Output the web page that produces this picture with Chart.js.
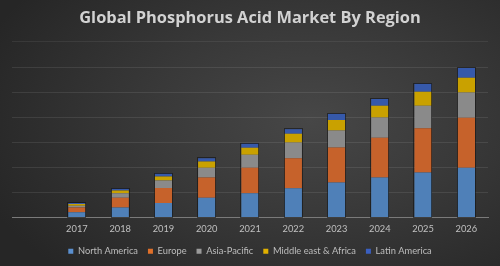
<!DOCTYPE html>
<html>
<head>
<meta charset="utf-8">
<script src="https://cdn.jsdelivr.net/npm/chart.js@4/dist/chart.umd.min.js"></script>
<style>
html,body{margin:0;padding:0;width:500px;height:266px;overflow:hidden;}
body{background:radial-gradient(ellipse 70% 80% at 62% 45%, #474747 0%, #393939 45%, #262626 100%);}
#wrap{position:relative;width:500px;height:266px;}
</style>
</head>
<body>
<div id="wrap"><canvas id="c" width="500" height="266"></canvas></div>
<script>
const categories = ['', '2017', '2018', '2019', '2020', '2021', '2022', '2023', '2024', '2025', '2026'];
const northAmerica = [null, 2.1, 4.0, 5.8, 7.9, 9.7, 11.7, 14.0, 16.0, 18.0, 19.9];
const europe       = [null, 1.9, 3.9, 6.0, 8.1, 10.2, 12.0, 14.0, 15.9, 17.7, 20.1];
const asiaPacific  = [null, 0.7, 1.8, 3.0, 3.9, 5.2, 6.3, 6.8, 8.2, 9.1, 10.1];
const mea          = [null, 0.7, 1.1, 1.6, 2.5, 2.8, 3.5, 4.3, 4.7, 5.6, 5.9];
const latinAmerica = [null, 0.4, 0.7, 1.2, 1.3, 1.7, 1.8, 2.5, 2.7, 3.2, 3.9];
const seriesNames = ['North America', 'Europe', 'Asia-Pacific', 'Middle east & Africa', 'Latin America'];
const titleText = 'Global Phosphorus Acid Market By Region';

const colors = ['#4f80b8', '#c6622b', '#8a8a8a', '#c9a100', '#3659aa'];
const legendColors = ['#5a8fcf', '#e0702a', '#9a9a9a', '#e0b000', '#3a5fc0'];
const values = [northAmerica, europe, asiaPacific, mea, latinAmerica];

const sepPlugin = {
  id: 'sep',
  beforeDraw(chart) {
    const ctx = chart.ctx;
    ctx.save();
    ctx.strokeStyle = 'rgba(255,255,255,0.07)';
    ctx.lineWidth = 1;
    ctx.beginPath();
    ctx.moveTo(12, 41.5);
    ctx.lineTo(488, 41.5);
    ctx.stroke();
    ctx.restore();
  }
};

// dark outline around each whole stack, using element positions from the library
const outlinePlugin = {
  id: 'outline',
  afterDatasetsDraw(chart) {
    const ctx = chart.ctx;
    const n = chart.data.labels.length;
    ctx.save();
    ctx.strokeStyle = 'rgba(15,15,15,0.55)';
    ctx.lineWidth = 1;
    for (let j = 0; j < n; j++) {
      let top = Infinity, bottom = -Infinity, x = null, w = null;
      chart.data.datasets.forEach((d, i) => {
        if (d.data[j] == null) return;
        const el = chart.getDatasetMeta(i).data[j];
        if (!el) return;
        const p = el.getProps(['x', 'y', 'base', 'width'], true);
        if (isNaN(p.y) || isNaN(p.base)) return;
        top = Math.min(top, p.y, p.base);
        bottom = Math.max(bottom, p.y, p.base);
        x = p.x; w = p.width;
      });
      if (x === null || !isFinite(top)) continue;
      ctx.strokeRect(Math.round(x - w / 2) - 0.5, Math.round(top) - 0.5, Math.round(w) + 1, Math.round(bottom - top) + 1);
    }
    ctx.restore();
  }
};

new Chart(document.getElementById('c'), {
  type: 'bar',
  data: {
    labels: categories,
    datasets: values.map((v, i) => ({
      label: seriesNames[i],
      data: v,
      backgroundColor: colors[i],
      borderWidth: 0,
      barPercentage: 0.4,
      categoryPercentage: 1.0
    }))
  },
  options: {
    responsive: false,
    animation: false,
    devicePixelRatio: 1,
    layout: { padding: { left: 12, right: 12, top: 6, bottom: 0 } },
    plugins: {
      title: {
        display: true,
        text: titleText,
        color: '#d2d2d2',
        font: { family: 'Open Sans', size: 16.4, weight: 'bold' },
        padding: { top: 2, bottom: 40 }
      },
      legend: {
        position: 'bottom',
        labels: {
          color: '#bdbdbd',
          font: { family: 'Lato', size: 9.3 },
          boxWidth: 5,
          boxHeight: 5,
          padding: 10,
          generateLabels(chart) {
            return chart.data.datasets.map((d, i) => ({
              text: d.label,
              fillStyle: legendColors[i],
              strokeStyle: legendColors[i],
              lineWidth: 0,
              fontColor: '#bdbdbd',
              datasetIndex: i,
              hidden: false
            }));
          }
        }
      },
      tooltip: { enabled: false }
    },
    scales: {
      x: {
        stacked: true,
        grid: { display: false, drawTicks: false, tickLength: 0 },
        border: { display: true, color: '#7a7a7a', width: 1 },
        ticks: { color: '#c0c0c0', font: { family: 'Lato', size: 9.3 }, padding: 6 },
        afterFit(scale) { scale.height -= 4; }
      },
      y: {
        stacked: true,
        min: 0,
        max: 60,
        ticks: { display: false, stepSize: 10 },
        grid: { color: 'rgba(255,255,255,0.09)', lineWidth: 1, drawTicks: false },
        border: { display: false }
      }
    }
  },
  plugins: [sepPlugin, outlinePlugin]
});
</script>
</body>
</html>
